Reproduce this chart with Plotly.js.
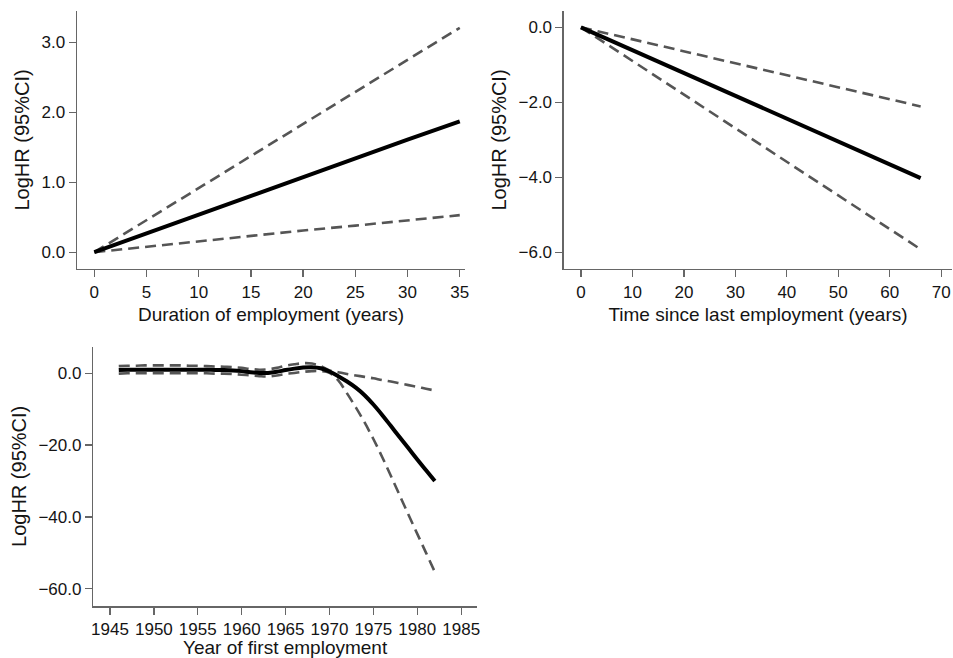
<!DOCTYPE html>
<html>
<head>
<meta charset="utf-8">
<script src="https://cdn.plot.ly/plotly-3.0.1.min.js"></script>
<style>html,body{margin:0;padding:0;background:#fff;}#chart{width:953px;height:658px;}</style>
</head>
<body>
<div id="chart"></div>
<script>
// Panel 1: Duration of employment (years)
const durX = [0, 5, 10, 15, 20, 25, 30, 35];
const durEst = [0, 0.27, 0.54, 0.80, 1.07, 1.34, 1.61, 1.87];
const durUpper = [0, 0.46, 0.92, 1.38, 1.83, 2.29, 2.75, 3.21];
const durLower = [0, 0.08, 0.15, 0.23, 0.31, 0.38, 0.46, 0.53];

// Panel 2: Time since last employment (years)
const tslX = [0, 10, 20, 30, 40, 50, 60, 66];
const tslEst = [0, -0.61, -1.22, -1.83, -2.44, -3.05, -3.65, -4.02];
const tslUpper = [0, -0.32, -0.64, -0.96, -1.28, -1.60, -1.92, -2.11];
const tslLower = [0, -0.90, -1.79, -2.69, -3.59, -4.48, -5.38, -5.92];

// Panel 3: Year of first employment
const yfeX = [1946,1947,1948,1949,1950,1951,1952,1953,1954,1955,1956,1957,1958,1959,1960,1961,1962,1963,1964,1965,1966,1967,1968,1969,1970,1971,1972,1973,1974,1975,1976,1977,1978,1979,1980,1981,1982];
const yfeEst = [0.9,1.0,1.0,1.0,1.0,1.0,1.0,1.0,1.0,1.0,1.0,0.9,0.9,0.8,0.6,0.3,0.1,0.1,0.4,0.9,1.3,1.6,1.7,1.4,0.5,-0.8,-2.3,-4.0,-6.1,-8.7,-11.6,-14.7,-17.8,-20.9,-24.0,-27.0,-30.0];
const yfeUpper = [2.0,2.1,2.1,2.2,2.2,2.2,2.2,2.2,2.1,2.1,2.0,1.9,1.8,1.7,1.5,1.2,1.0,1.1,1.5,2.1,2.5,2.8,2.7,2.0,0.8,0.3,-0.2,-0.6,-1.0,-1.4,-1.9,-2.3,-2.8,-3.3,-3.8,-4.3,-4.8];
const yfeLower = [-0.1,0.0,0.0,0.0,0.0,0.0,0.0,0.0,0.0,0.0,0.0,-0.1,-0.1,-0.2,-0.4,-0.6,-0.8,-0.9,-0.6,-0.2,0.1,0.4,0.6,0.6,0.1,-2.0,-5.6,-9.5,-13.7,-18.3,-23.3,-28.6,-34.0,-39.4,-44.7,-50.0,-55.3];

const estLine = {color: '#000000', width: 4};
const ciLine = {color: '#555555', width: 2.6, dash: '11px,6px'};

function trio(x, est, up, lo, xa, ya, shape) {
  return [
    {x: x, y: up, xaxis: xa, yaxis: ya, mode: 'lines', line: Object.assign({shape: shape}, ciLine), showlegend: false, hoverinfo: 'skip'},
    {x: x, y: lo, xaxis: xa, yaxis: ya, mode: 'lines', line: Object.assign({shape: shape}, ciLine), showlegend: false, hoverinfo: 'skip'},
    {x: x, y: est, xaxis: xa, yaxis: ya, mode: 'lines', line: Object.assign({shape: shape}, estLine), showlegend: false}
  ];
}

const data = [].concat(
  trio(durX, durEst, durUpper, durLower, 'x', 'y', 'linear'),
  trio(tslX, tslEst, tslUpper, tslLower, 'x2', 'y2', 'linear'),
  trio(yfeX, yfeEst, yfeUpper, yfeLower, 'x3', 'y3', 'spline')
);

const font = {family: '"Liberation Sans", Arial, Helvetica, sans-serif', color: '#141414'};
function xax(domain, range, dtick, title, anchor) {
  return {
    domain: domain, range: range, dtick: dtick, tick0: 0, anchor: anchor,
    showgrid: false, zeroline: false, showline: true, linecolor: '#666666', linewidth: 1.5,
    ticks: 'outside', ticklen: 7, tickwidth: 1.3, tickcolor: '#666666',
    tickfont: {size: 17}, automargin: false,
    title: {text: title, font: {size: 19}, standoff: 7}
  };
}
function yax(domain, range, dtick, anchor) {
  return {
    domain: domain, range: range, dtick: dtick, tick0: 0, anchor: anchor,
    showgrid: false, zeroline: false, showline: true, linecolor: '#666666', linewidth: 1.5,
    ticks: 'outside', ticklen: 7, tickwidth: 1.3, tickcolor: '#666666',
    tickfont: {size: 17}, tickformat: '.1f', automargin: false,
    title: {text: 'LogHR (95%CI)', font: {size: 20}, standoff: 6}
  };
}

const layout = {
  width: 953, height: 658,
  margin: {l: 0, r: 0, t: 0, b: 0},
  paper_bgcolor: '#ffffff', plot_bgcolor: '#ffffff',
  font: font,
  showlegend: false,
  xaxis: xax([0.0808, 0.4879], [-1.66, 35.5], 5, 'Duration of employment (years)', 'y'),
  yaxis: yax([0.5912, 0.9833], [-0.24, 3.45], 1, 'x'),
  xaxis2: xax([0.5918, 0.999], [-3.3, 72.1], 10, 'Time since last employment (years)', 'y2'),
  yaxis2: yax([0.5912, 0.9833], [-6.445, 0.435], 2, 'x2'),
  xaxis3: xax([0.0979, 0.5005], [1943.1, 1986.8], 5, 'Year of first employment', 'y3'),
  yaxis3: yax([0.0790, 0.4731], [-64.8, 7.4], 20, 'x3')
};
layout.xaxis3.tick0 = 1945;

Plotly.newPlot('chart', data, layout, {displayModeBar: false, staticPlot: true});
</script>
</body>
</html>
